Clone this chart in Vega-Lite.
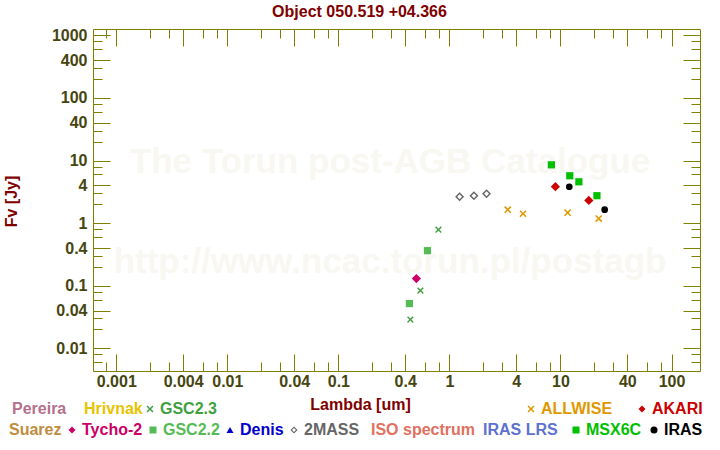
{
  "$schema": "https://vega.github.io/schema/vega-lite/v6.json",
  "width": 607,
  "height": 342,
  "autosize": "none",
  "padding": {"left": 93, "top": 29, "right": 20, "bottom": 79},
  "background": "white",
  "title": {
    "text": "Object 050.519 +04.366",
    "font": "Liberation Sans",
    "fontSize": 16,
    "fontWeight": "bold",
    "color": "#800000",
    "anchor": "middle",
    "frame": "group",
    "dx": -37,
    "dy": 18,
    "offset": 12,
    "baseline": "alphabetic"
  },
  "datasets": {
    "sed": [
      {"source": "GSC2.3", "lambda": 0.445, "flux": 0.0288},
      {"source": "GSC2.3", "lambda": 0.548, "flux": 0.0835},
      {"source": "GSC2.3", "lambda": 0.796, "flux": 0.785},
      {"source": "GSC2.2", "lambda": 0.436, "flux": 0.0518},
      {"source": "GSC2.2", "lambda": 0.634, "flux": 0.363},
      {"source": "Tycho-2", "lambda": 0.504, "flux": 0.13},
      {"source": "2MASS", "lambda": 1.235, "flux": 2.64},
      {"source": "2MASS", "lambda": 1.662, "flux": 2.74},
      {"source": "2MASS", "lambda": 2.159, "flux": 2.94},
      {"source": "ALLWISE", "lambda": 3.35, "flux": 1.64},
      {"source": "ALLWISE", "lambda": 4.6, "flux": 1.41},
      {"source": "ALLWISE", "lambda": 11.6, "flux": 1.47},
      {"source": "ALLWISE", "lambda": 22.1, "flux": 1.18},
      {"source": "MSX6C", "lambda": 8.28, "flux": 8.54},
      {"source": "MSX6C", "lambda": 12.13, "flux": 5.7},
      {"source": "MSX6C", "lambda": 14.65, "flux": 4.57},
      {"source": "MSX6C", "lambda": 21.3, "flux": 2.74},
      {"source": "AKARI", "lambda": 9.0, "flux": 3.81},
      {"source": "AKARI", "lambda": 18.0, "flux": 2.3},
      {"source": "IRAS", "lambda": 12.0, "flux": 3.81},
      {"source": "IRAS", "lambda": 25.0, "flux": 1.64}
    ]
  },
  "layer": [
    {
      "data": {"values": [{"t": "The Torun post-AGB Catalogue"}]},
      "mark": {"type": "text", "font": "Liberation Sans", "fontSize": 35, "fontWeight": "bold", "color": "#f9f7f2", "align": "center", "baseline": "middle"},
      "encoding": {
        "x": {"datum": 0.292, "type": "quantitative", "scale": {"type": "log", "domain": [0.000617, 180.5], "nice": false},
          "axis": {"orient": "top", "title": null, "labels": false, "domain": false, "grid": false,
            "values": [0.0008,0.001,0.002,0.003,0.004,0.006,0.008,0.01,0.02,0.03,0.04,0.06,0.08,0.1,0.2,0.3,0.4,0.6,0.8,1,2,3,4,6,8,10,20,30,40,60,80,100],
            "tickSize": {"condition": {"test": "abs(datum.value/pow(10,floor(log(datum.value)/LN10+1e-9))-1)<0.001||abs(datum.value/pow(10,floor(log(datum.value)/LN10+1e-9))-4)<0.001", "value": -17}, "value": -9}}},
        "y": {"datum": 9.3, "type": "quantitative", "scale": {"type": "log", "domain": [0.004338, 1261], "nice": false},
          "axis": {"orient": "right", "title": null, "labels": false, "domain": false, "grid": false,
            "values": [0.006,0.008,0.01,0.02,0.03,0.04,0.06,0.08,0.1,0.2,0.3,0.4,0.6,0.8,1,2,3,4,6,8,10,20,30,40,60,80,100,200,300,400,600,800,1000],
            "tickSize": {"condition": {"test": "abs(datum.value/pow(10,floor(log(datum.value)/LN10+1e-9))-1)<0.001||abs(datum.value/pow(10,floor(log(datum.value)/LN10+1e-9))-4)<0.001", "value": -17}, "value": -9}}},
        "text": {"field": "t"}
      }
    },
    {
      "data": {"values": [{"t": "http://www.ncac.torun.pl/postagb"}]},
      "mark": {"type": "text", "font": "Liberation Sans", "fontSize": 35, "fontWeight": "bold", "color": "#f9f7f2", "align": "center", "baseline": "middle"},
      "encoding": {
        "x": {"datum": 0.292, "type": "quantitative", "scale": {"type": "log", "domain": [0.000617, 180.5], "nice": false}, "axis": null},
        "y": {"datum": 0.236, "type": "quantitative", "scale": {"type": "log", "domain": [0.004338, 1261], "nice": false}, "axis": null},
        "text": {"field": "t"}
      }
    },
    {
      "data": {"name": "sed"},
      "transform": [{"filter": {"field": "source", "oneOf": ["Pereira", "Hrivnak", "GSC2.3"]}}],
      "mark": {"type": "point", "filled": true, "opacity": 1, "strokeWidth": 0},
      "encoding": {
        "x": {"field": "lambda", "type": "quantitative", "scale": {"type": "log", "domain": [0.000617, 180.5], "nice": false},
          "axis": {"orient": "bottom", "title": "Lambda [um]", "titleX": 267, "titleY": 33, "titleBaseline": "middle", "titleAlign": "center",
            "domain": false, "grid": false, "labelFlush": false, "labelOverlap": false, "labelBound": false,
            "values": [0.0008,0.001,0.002,0.003,0.004,0.006,0.008,0.01,0.02,0.03,0.04,0.06,0.08,0.1,0.2,0.3,0.4,0.6,0.8,1,2,3,4,6,8,10,20,30,40,60,80,100],
            "labelExpr": "(abs(datum.value/pow(10,floor(log(datum.value)/LN10+1e-9))-1)<0.001||abs(datum.value/pow(10,floor(log(datum.value)/LN10+1e-9))-4)<0.001) ? format(datum.value, '~g') : ''",
            "labelPadding": 19,
            "tickSize": {"condition": {"test": "abs(datum.value/pow(10,floor(log(datum.value)/LN10+1e-9))-1)<0.001||abs(datum.value/pow(10,floor(log(datum.value)/LN10+1e-9))-4)<0.001", "value": -17}, "value": -9}}},
        "y": {"field": "flux", "type": "quantitative", "scale": {"type": "log", "domain": [0.004338, 1261], "nice": false},
          "axis": {"orient": "left", "title": "Fv [Jy]", "titleX": -82, "titleY": 172, "titleBaseline": "middle", "titleAlign": "center", "titleAngle": 270,
            "domain": false, "grid": false, "labelFlush": false, "labelOverlap": false, "labelBound": false,
            "values": [0.006,0.008,0.01,0.02,0.03,0.04,0.06,0.08,0.1,0.2,0.3,0.4,0.6,0.8,1,2,3,4,6,8,10,20,30,40,60,80,100,200,300,400,600,800,1000],
            "labelExpr": "(abs(datum.value/pow(10,floor(log(datum.value)/LN10+1e-9))-1)<0.001||abs(datum.value/pow(10,floor(log(datum.value)/LN10+1e-9))-4)<0.001) ? format(datum.value, '~g') : ''",
            "labelPadding": 23,
            "tickSize": {"condition": {"test": "abs(datum.value/pow(10,floor(log(datum.value)/LN10+1e-9))-1)<0.001||abs(datum.value/pow(10,floor(log(datum.value)/LN10+1e-9))-4)<0.001", "value": -17}, "value": -9}}},
        "color": {"field": "source", "type": "nominal",
          "scale": {"domain": ["Pereira", "Hrivnak", "GSC2.3"], "range": ["#b4708c", "#e6c300", "#40a040"]},
          "legend": {"title": null, "orient": "none", "legendX": -99, "legendY": 372, "direction": "horizontal", "columns": 3, "gridAlign": "none", "columnPadding": -1,
            "encode": {"labels": {"update": {"fill": {"signal": "datum.value==='Pereira'?'#b4708c':datum.value==='Hrivnak'?'#e6c300':'#40a040'"}}}}}},
        "shape": {"field": "source", "type": "nominal",
          "scale": {"domain": ["Pereira", "Hrivnak", "GSC2.3"], "range": ["M0,0Z", "M0,0Z", "M-1,-0.7L-0.7,-1L0,-0.3L0.7,-1L1,-0.7L0.3,0L1,0.7L0.7,1L0,0.3L-0.7,1L-1,0.7L-0.3,0Z"]},
          "legend": {"title": null, "orient": "none", "legendX": -99, "legendY": 372, "direction": "horizontal", "columns": 3, "gridAlign": "none", "columnPadding": -1,
            "encode": {"labels": {"update": {"fill": {"signal": "datum.value==='Pereira'?'#b4708c':datum.value==='Hrivnak'?'#e6c300':'#40a040'"}}}}}},
        "size": {"field": "source", "type": "nominal",
          "scale": {"type": "ordinal", "domain": ["GSC2.3", "ALLWISE", "AKARI", "Tycho-2", "GSC2.2", "2MASS", "MSX6C", "IRAS"], "range": [45, 52, 85, 85, 52, 80, 52, 45]},
          "legend": null}
      }
    },
    {
      "data": {"name": "sed"},
      "transform": [{"filter": {"field": "source", "oneOf": ["ALLWISE", "AKARI"]}}],
      "mark": {"type": "point", "filled": true, "opacity": 1, "strokeWidth": 0},
      "encoding": {
        "x": {"field": "lambda", "type": "quantitative", "scale": {"type": "log", "domain": [0.000617, 180.5], "nice": false}, "axis": null},
        "y": {"field": "flux", "type": "quantitative", "scale": {"type": "log", "domain": [0.004338, 1261], "nice": false}, "axis": null},
        "color": {"field": "source", "type": "nominal",
          "scale": {"domain": ["ALLWISE", "AKARI"], "range": ["#e09800", "#cc0000"]},
          "legend": {"title": null, "orient": "none", "legendX": 430, "legendY": 372, "direction": "horizontal", "columns": 2, "gridAlign": "none", "columnPadding": 21,
            "encode": {"labels": {"update": {"fill": {"signal": "datum.value==='ALLWISE'?'#e09800':'#cc0000'"}}}}}},
        "shape": {"field": "source", "type": "nominal",
          "scale": {"domain": ["ALLWISE", "AKARI"], "range": ["M-1,-0.7L-0.7,-1L0,-0.3L0.7,-1L1,-0.7L0.3,0L1,0.7L0.7,1L0,0.3L-0.7,1L-1,0.7L-0.3,0Z", "diamond"]},
          "legend": {"title": null, "orient": "none", "legendX": 430, "legendY": 372, "direction": "horizontal", "columns": 2, "gridAlign": "none", "columnPadding": 21,
            "encode": {"labels": {"update": {"fill": {"signal": "datum.value==='ALLWISE'?'#e09800':'#cc0000'"}}}}}},
        "size": {"field": "source", "type": "nominal",
          "scale": {"type": "ordinal", "domain": ["GSC2.3", "ALLWISE", "AKARI", "Tycho-2", "GSC2.2", "2MASS", "MSX6C", "IRAS"], "range": [45, 52, 85, 85, 52, 80, 52, 45]},
          "legend": null}
      }
    },
    {
      "data": {"name": "sed"},
      "transform": [{"filter": {"field": "source", "oneOf": ["Suarez", "Tycho-2", "GSC2.2", "Denis", "2MASS"]}}],
      "mark": {"type": "point", "filled": true, "opacity": 1, "strokeWidth": 0},
      "encoding": {
        "x": {"field": "lambda", "type": "quantitative", "scale": {"type": "log", "domain": [0.000617, 180.5], "nice": false}, "axis": null},
        "y": {"field": "flux", "type": "quantitative", "scale": {"type": "log", "domain": [0.004338, 1261], "nice": false}, "axis": null},
        "color": {"field": "source", "type": "nominal",
          "scale": {"domain": ["Suarez", "Tycho-2", "GSC2.2", "Denis", "2MASS"], "range": ["#c08c40", "#cc0066", "#55bb55", "#0000cc", "#666666"]},
          "legend": {"title": null, "orient": "none", "legendX": -102, "legendY": 393, "direction": "horizontal", "columns": 5, "gridAlign": "none", "columnPadding": 2,
            "encode": {"labels": {"update": {"fill": {"signal": "datum.value==='Suarez'?'#c08c40':datum.value==='Tycho-2'?'#cc0066':datum.value==='GSC2.2'?'#55bb55':datum.value==='Denis'?'#0000cc':'#666666'"}}}}}},
        "shape": {"field": "source", "type": "nominal",
          "scale": {"domain": ["Suarez", "Tycho-2", "GSC2.2", "Denis", "2MASS"], "range": ["M0,0Z", "diamond", "square", "triangle-up", "M0,-1L1,0L0,1L-1,0ZM0,-0.55L-0.55,0L0,0.55L0.55,0Z"]},
          "legend": {"title": null, "orient": "none", "legendX": -102, "legendY": 393, "direction": "horizontal", "columns": 5, "gridAlign": "none", "columnPadding": 2,
            "encode": {"labels": {"update": {"fill": {"signal": "datum.value==='Suarez'?'#c08c40':datum.value==='Tycho-2'?'#cc0066':datum.value==='GSC2.2'?'#55bb55':datum.value==='Denis'?'#0000cc':'#666666'"}}}}}},
        "size": {"field": "source", "type": "nominal",
          "scale": {"type": "ordinal", "domain": ["GSC2.3", "ALLWISE", "AKARI", "Tycho-2", "GSC2.2", "2MASS", "MSX6C", "IRAS"], "range": [45, 52, 85, 85, 52, 80, 52, 45]},
          "legend": null}
      }
    },
    {
      "data": {"name": "sed"},
      "transform": [{"filter": {"field": "source", "oneOf": ["ISO spectrum", "IRAS LRS"]}}],
      "mark": {"type": "point", "filled": true, "opacity": 1, "strokeWidth": 0},
      "encoding": {
        "x": {"field": "lambda", "type": "quantitative", "scale": {"type": "log", "domain": [0.000617, 180.5], "nice": false}, "axis": null},
        "y": {"field": "flux", "type": "quantitative", "scale": {"type": "log", "domain": [0.004338, 1261], "nice": false}, "axis": null},
        "color": {"field": "source", "type": "nominal",
          "scale": {"domain": ["ISO spectrum", "IRAS LRS"], "range": ["#e07060", "#6070d0"]},
          "legend": {"title": null, "orient": "none", "legendX": 260, "legendY": 393, "direction": "horizontal", "columns": 2, "gridAlign": "none", "columnPadding": -11,
            "encode": {"labels": {"update": {"fill": {"signal": "datum.value==='ISO spectrum'?'#e07060':'#6070d0'"}}}}}},
        "shape": {"field": "source", "type": "nominal",
          "scale": {"domain": ["ISO spectrum", "IRAS LRS"], "range": ["M0,0Z", "M0,0Z"]},
          "legend": {"title": null, "orient": "none", "legendX": 260, "legendY": 393, "direction": "horizontal", "columns": 2, "gridAlign": "none", "columnPadding": -11,
            "encode": {"labels": {"update": {"fill": {"signal": "datum.value==='ISO spectrum'?'#e07060':'#6070d0'"}}}}}}
      }
    },
    {
      "data": {"name": "sed"},
      "transform": [{"filter": {"field": "source", "oneOf": ["MSX6C", "IRAS"]}}],
      "mark": {"type": "point", "filled": true, "opacity": 1, "strokeWidth": 0},
      "encoding": {
        "x": {"field": "lambda", "type": "quantitative", "scale": {"type": "log", "domain": [0.000617, 180.5], "nice": false}, "axis": null},
        "y": {"field": "flux", "type": "quantitative", "scale": {"type": "log", "domain": [0.004338, 1261], "nice": false}, "axis": null},
        "color": {"field": "source", "type": "nominal",
          "scale": {"domain": ["MSX6C", "IRAS"], "range": ["#00c000", "#000000"]},
          "legend": {"title": null, "orient": "none", "legendX": 475, "legendY": 393, "direction": "horizontal", "columns": 2, "gridAlign": "none", "columnPadding": 4,
            "encode": {"labels": {"update": {"fill": {"signal": "datum.value==='MSX6C'?'#00c000':'#000000'"}}}}}},
        "shape": {"field": "source", "type": "nominal",
          "scale": {"domain": ["MSX6C", "IRAS"], "range": ["square", "circle"]},
          "legend": {"title": null, "orient": "none", "legendX": 475, "legendY": 393, "direction": "horizontal", "columns": 2, "gridAlign": "none", "columnPadding": 4,
            "encode": {"labels": {"update": {"fill": {"signal": "datum.value==='MSX6C'?'#00c000':'#000000'"}}}}}},
        "size": {"field": "source", "type": "nominal",
          "scale": {"type": "ordinal", "domain": ["GSC2.3", "ALLWISE", "AKARI", "Tycho-2", "GSC2.2", "2MASS", "MSX6C", "IRAS"], "range": [45, 52, 85, 85, 52, 80, 52, 45]},
          "legend": null}
      }
    }
  ],
  "resolve": {
    "scale": {"x": "independent", "y": "independent", "color": "independent", "shape": "independent"},
    "axis": {"x": "independent", "y": "independent"},
    "legend": {"color": "independent", "shape": "independent"}
  },
  "config": {
    "view": {"stroke": "#808000", "strokeWidth": 1},
    "axis": {
      "labelFont": "Liberation Sans", "labelFontSize": 16, "labelFontWeight": "bold", "labelColor": "#454510",
      "tickColor": "#808000", "tickWidth": 1,
      "titleFont": "Liberation Sans", "titleFontSize": 16, "titleFontWeight": "bold", "titleColor": "#800000"
    },
    "legend": {
      "labelFont": "Liberation Sans", "labelFontSize": 16, "labelFontWeight": "bold",
      "symbolSize": 49, "labelOffset": 2, "padding": 0, "symbolStrokeWidth": 0, "symbolOpacity": 1
    }
  }
}
